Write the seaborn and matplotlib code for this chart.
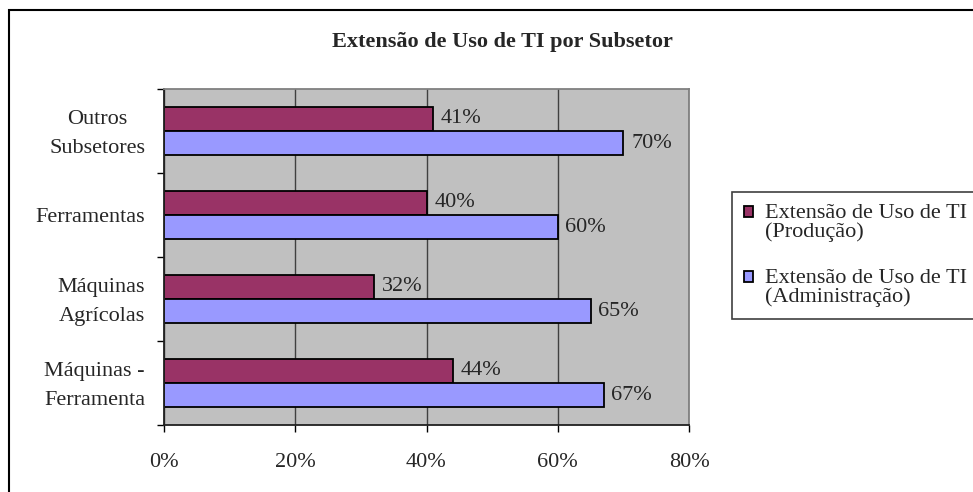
import numpy as np
import pandas as pd

import matplotlib
matplotlib.use('Agg')
import matplotlib.pyplot as plt
import seaborn as sns
from matplotlib.patches import Rectangle
from matplotlib.ticker import FixedLocator
from matplotlib.legend_handler import HandlerPatch
from matplotlib.transforms import ScaledTranslation

categorias = ['Outros\nSubsetores', 'Ferramentas', 'Máquinas\nAgrícolas', 'Máquinas -\nFerramenta']
producao = [41, 40, 32, 44]
administracao = [70, 60, 65, 67]
series = ['Extensão de Uso de TI\n(Produção)', 'Extensão de Uso de TI\n(Administração)']
cores = ['#993366', '#9999FF']
xticks = [0, 20, 40, 60, 80]

df = pd.DataFrame({
    'categoria': categorias * 2,
    'valor': producao + administracao,
    'serie': [series[0]] * 4 + [series[1]] * 4,
})

sns.set_style('white')
plt.rcParams['font.family'] = ['Liberation Serif', 'DejaVu Serif']

W, H = 973, 492
fig = plt.figure(figsize=(W/100, H/100), dpi=100)
ax = fig.add_axes([164/W, 1-425/H, (689-164)/W, (425-89)/H])
ax.set_facecolor('#C0C0C0')

sns.barplot(data=df, y='categoria', x='valor', hue='serie', orient='h',
            palette=cores, width=0.583, edgecolor='black', linewidth=1.3,
            saturation=1, ax=ax, legend=True)

for c in ax.containers:
    ax.bar_label(c, fmt=lambda v: f'{v:.0f}%', padding=5.5, fontsize=16)

ax.set_xlim(0, 80)
ax.set_ylim(3.5, -0.5)
ax.set_xticks(xticks)
ax.set_xticklabels([f'{t}%' for t in xticks], fontsize=16)
ax.set_xlabel('')
ax.set_ylabel('')
ax.yaxis.set_tick_params(which='major', length=0, pad=13.5, labelsize=16)
desloc = ScaledTranslation(0, -3/100, fig.dpi_scale_trans)
for lab in ax.get_yticklabels():
    lab.set_multialignment('center')
    lab.set_verticalalignment('center')
    lab.set_linespacing(1.75)
    lab.set_transform(lab.get_transform() + desloc)
ax.yaxis.set_minor_locator(FixedLocator([-0.5, 0.5, 1.5, 2.5, 3.5]))
ax.tick_params(axis='y', which='minor', length=5, width=1, color='black', direction='out', left=True)
ax.tick_params(axis='x', which='major', length=5, width=1, color='black', direction='out', pad=15.5, bottom=True)

ax.xaxis.grid(True, color='#404040', linewidth=1)
ax.set_axisbelow(True)
for s in ['top', 'right']:
    ax.spines[s].set_color('#808080')
    ax.spines[s].set_linewidth(1.3)
for s in ['left', 'bottom']:
    ax.spines[s].set_color('#202020')
    ax.spines[s].set_linewidth(1.3)

leg = ax.get_legend()
handles = leg.legend_handles
leg.remove()
for h in handles:
    h.set_edgecolor('black')
    h.set_linewidth(1.3)


# quadrado alinhado com a primeira linha do texto
def quadrado(legend, orig_handle, xdescent, ydescent, width, height, fontsize):
    return Rectangle((-xdescent, -ydescent + 7.5), width, height)


leg = fig.legend(handles, series, loc='upper left', bbox_to_anchor=(732/W, 1-192/H),
                 frameon=True, fancybox=False, edgecolor='#404040', framealpha=1,
                 fontsize=16, handlelength=0.4, handleheight=0.4, handletextpad=0.55,
                 labelspacing=1.2, borderpad=0.55, borderaxespad=0,
                 handler_map={h: HandlerPatch(patch_func=quadrado) for h in handles})
leg.get_frame().set_linewidth(1.2)
for t in leg.get_texts():
    t.set_linespacing(0.95)

fig.text(502/W, 1-42/H, 'Extensão de Uso de TI por Subsetor', ha='center', va='center',
         fontsize=16, fontweight='bold')

fig.patches.append(Rectangle((9/W, -0.2), 1.5, 1.2 - 10/H, transform=fig.transFigure,
                             fill=False, edgecolor='black', linewidth=1.5, clip_on=False))

fig.savefig('out.png', dpi=100)
